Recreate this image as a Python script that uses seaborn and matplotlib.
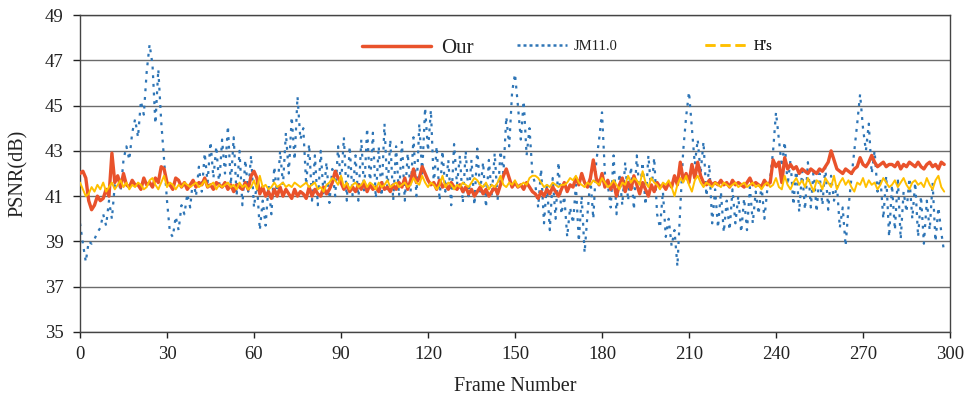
import matplotlib
matplotlib.use("Agg")
import matplotlib.pyplot as plt
from matplotlib.lines import Line2D
import seaborn as sns

our = [
    42.0, 42.1, 41.8, 40.8, 40.4, 40.6, 41.0, 40.8, 40.9, 41.3,
    41.0, 42.9, 41.6, 41.9, 41.4, 42.0, 41.5, 41.4, 41.7, 41.5,
    41.5, 41.3, 41.8, 41.5, 41.6, 41.4, 41.8, 41.6, 42.3, 42.2,
    41.6, 41.5, 41.3, 41.8, 41.7, 41.4, 41.6, 41.3, 41.5, 41.7,
    41.4, 41.6, 41.5, 41.8, 41.4, 41.5, 41.3, 41.6, 41.5, 41.4,
    41.6, 41.3, 41.5, 41.2, 41.5, 41.4, 41.3, 41.6, 41.3, 41.9,
    42.1, 41.8, 41.1, 41.4, 41.0, 41.2, 40.9, 41.3, 41.0, 41.4,
    41.0, 41.3, 41.1, 40.9, 41.3, 41.0, 41.2, 41.1, 40.9, 41.4,
    41.0, 41.3, 41.1, 41.0, 41.4, 41.1, 41.3, 41.6, 42.1, 41.8,
    41.6, 41.3, 41.5, 41.2, 41.4, 41.2, 41.5, 41.3, 41.6, 41.2,
    41.5, 41.3, 41.4, 41.2, 41.6, 41.3, 41.4, 41.2, 41.5, 41.3,
    41.6, 41.4, 41.8, 41.3, 41.7, 42.2, 41.6, 41.8, 42.3, 42.0,
    41.7, 41.5, 41.6, 41.3, 41.7, 41.4, 41.5, 41.3, 41.6, 41.4,
    41.3, 41.5, 41.2, 41.4, 41.1, 41.3, 41.0, 41.2, 41.4, 41.1,
    41.3, 41.0, 41.2, 41.4, 41.1, 41.5, 41.9, 42.2, 41.8, 41.4,
    41.6, 41.4, 41.5, 41.3, 41.6, 41.4, 41.2, 41.1, 40.9, 41.2,
    41.0, 41.3, 41.1, 41.4, 41.2, 41.0, 41.3, 41.6, 41.2, 41.5,
    41.4, 41.8, 41.5, 42.0, 41.6, 41.4, 41.8, 42.6, 41.8, 41.5,
    42.0, 41.4, 41.7, 41.3, 41.6, 41.0, 41.5, 41.8, 41.2, 41.6,
    41.3, 41.9, 41.5, 41.1, 41.6, 41.3, 41.0, 41.5, 41.2, 41.6,
    41.4, 41.5, 41.3, 41.6, 41.4, 41.9, 41.5, 42.5, 41.7, 42.0,
    41.6, 42.4, 41.8, 42.5, 41.9, 41.6, 41.5, 41.7, 41.5, 41.6,
    41.5, 41.7, 41.5, 41.6, 41.4, 41.7, 41.5, 41.6, 41.5, 41.4,
    41.6, 41.8, 41.5, 41.6, 41.5, 41.4, 41.7, 41.5, 41.6, 42.6,
    42.3, 42.5, 41.6, 42.7, 42.2, 42.4, 42.2, 42.3, 42.0, 42.2,
    42.1, 42.0, 42.2, 42.1, 42.0, 42.2, 42.1, 42.3, 42.5, 43.0,
    42.6, 42.2, 42.1, 42.0, 42.2, 42.1, 42.0, 42.2, 42.3, 42.7,
    42.4, 42.3, 42.5, 42.8, 42.5, 42.3, 42.4, 42.5, 42.3, 42.4,
    42.4, 42.3, 42.5, 42.2, 42.4, 42.3, 42.5, 42.4, 42.3, 42.5,
    42.3, 42.2, 42.4, 42.5, 42.3, 42.4, 42.2, 42.5, 42.4,
]

jm = [
    39.8, 38.9, 38.1, 39.0, 38.9, 39.1, 39.4, 39.6, 40.2, 39.7,
    40.8, 40.0, 41.5, 42.0, 41.2, 42.6, 43.2, 42.6, 43.8, 44.4,
    43.6, 45.2, 44.6, 46.5, 47.7, 46.8, 44.2, 46.6, 44.3, 42.6,
    40.8, 39.4, 39.2, 40.1, 39.5, 40.6, 40.2, 41.1, 40.5, 41.8,
    41.0, 42.3, 41.2, 42.9, 41.6, 43.4, 41.8, 43.2, 41.5, 43.5,
    42.0, 44.1, 41.5, 43.6, 41.0, 43.0, 40.6, 42.6, 41.2, 42.8,
    40.5, 41.6, 39.5, 40.8, 39.7, 41.5, 40.2, 42.3, 41.0, 43.0,
    41.5, 43.8, 42.0, 44.5, 42.6, 45.4, 43.5, 44.0, 41.5, 43.3,
    40.8, 42.8, 40.6, 43.0, 41.0, 42.5, 40.7, 42.2, 41.0, 43.2,
    41.5, 43.6, 40.8, 43.2, 41.0, 42.8, 40.8, 43.5, 41.2, 44.0,
    41.5, 43.8, 40.9, 43.2, 41.0, 44.2, 41.2, 43.5, 40.8, 43.2,
    41.0, 43.4, 40.8, 42.9, 41.2, 43.6, 41.0, 44.2, 42.0, 44.9,
    43.0, 44.8, 41.5, 43.2, 40.8, 43.0, 41.2, 42.6, 40.6, 43.3,
    41.5, 42.8, 40.7, 43.0, 41.0, 42.6, 40.6, 43.1, 41.2, 42.5,
    40.5, 42.6, 41.0, 42.9, 40.8, 43.0, 42.0, 44.5, 43.2, 45.6,
    46.4, 45.0, 43.5, 45.2, 42.8, 44.0, 42.0, 41.5, 40.5, 42.2,
    39.8, 41.6, 39.5, 41.8, 40.0, 42.5, 40.2, 41.0, 39.2, 40.5,
    39.8, 41.5, 39.0, 41.0, 38.5, 40.2, 41.8, 40.0, 42.5, 43.5,
    44.7, 42.0, 41.5, 40.5, 42.8, 40.2, 42.0, 40.6, 42.5, 40.8,
    42.3, 40.4, 42.8, 41.0, 42.5, 40.6, 42.8, 41.2, 42.7, 40.2,
    39.6, 41.2, 39.2, 40.0, 38.8, 39.5, 37.9, 40.5, 43.0, 44.5,
    45.6, 44.0, 42.4, 43.5, 42.0, 43.4, 41.0, 42.4, 39.8, 41.3,
    39.6, 41.2, 39.4, 40.8, 39.5, 41.3, 39.8, 41.0, 39.4, 40.9,
    39.5, 41.4, 39.8, 41.2, 40.2, 41.5, 40.0, 41.3, 41.8, 43.0,
    44.7, 43.5, 42.3, 43.4, 41.5, 42.6, 40.6, 42.3, 40.3, 42.1,
    40.4, 42.5, 40.5, 42.2, 40.3, 42.0, 40.6, 42.3, 40.4, 41.9,
    40.8, 41.5, 39.6, 40.5, 38.8, 40.5, 41.8, 43.0, 44.2, 45.5,
    44.0, 43.0, 44.2, 42.0, 43.0, 41.2, 41.8, 40.0, 41.9, 39.2,
    41.5, 39.5, 41.8, 39.1, 41.2, 40.3, 41.8, 40.0, 41.6, 39.2,
    41.0, 38.9, 40.8, 39.5, 41.6, 39.0, 40.5, 39.4, 38.5,
]

hs = [
    41.6, 41.3, 41.0, 41.1, 41.4, 41.2, 41.5, 41.3, 41.6, 41.2,
    41.4, 41.6, 41.3, 41.5, 41.7, 41.4, 41.6, 41.3, 41.5, 41.4,
    41.6, 41.5, 41.3, 41.4, 41.7, 41.8, 41.5, 41.3, 41.6, 41.9,
    41.4, 41.6, 41.5, 41.3, 41.5, 41.4, 41.6, 41.5, 41.4, 41.5,
    41.6, 41.4, 41.5, 41.7, 41.4, 41.5, 41.6, 41.3, 41.5, 41.4,
    41.5, 41.6, 41.4, 41.5, 41.3, 41.6, 41.4, 41.5, 41.3, 41.4,
    41.7, 41.3, 41.9, 41.4, 41.5, 41.3, 41.4, 41.6, 41.4, 41.5,
    41.6, 41.4, 41.5, 41.4, 41.6, 41.5, 41.4, 41.5, 41.6, 41.4,
    41.5, 41.6, 41.3, 41.4, 41.2, 41.5, 41.6, 41.8, 41.7, 41.5,
    41.9, 41.4, 41.6, 41.3, 41.5, 41.6, 41.4, 41.5, 41.7, 41.4,
    41.6, 41.5, 41.3, 41.6, 41.4, 41.5, 41.7, 41.4, 41.5, 41.6,
    41.4, 41.5, 41.6, 41.4, 41.5, 41.8, 41.6, 41.5, 41.9, 41.6,
    41.4, 41.6, 41.5, 41.3, 41.5, 41.9, 41.4, 41.6, 41.5, 41.3,
    41.5, 41.4, 41.6, 41.5, 41.4, 41.6, 41.8, 41.7, 41.5, 41.4,
    41.6, 41.3, 41.5, 41.4, 41.6, 41.9, 41.5, 41.4, 41.6, 41.5,
    41.7, 41.4, 41.5, 41.6, 41.5, 41.8, 41.9, 41.9, 41.8, 41.6,
    41.4, 41.5, 41.4, 41.6, 41.5, 41.4, 41.5, 41.5, 41.6, 41.8,
    41.7, 41.9, 41.6, 41.5, 41.4, 41.6, 41.5, 41.7, 41.6, 41.5,
    41.8, 41.6, 41.4, 41.5, 41.7, 41.5, 41.3, 41.6, 41.5, 41.9,
    41.6, 41.8, 41.7, 41.5, 42.1, 41.6, 41.4, 41.8, 41.6, 41.5,
    41.3, 41.6, 41.5, 41.7, 41.4, 41.0, 41.5, 41.8, 41.6, 41.9,
    41.5, 41.2, 41.7, 41.9, 41.6, 41.4, 41.6, 41.5, 41.4, 41.6,
    41.5, 41.4, 41.6, 41.5, 41.4, 41.5, 41.6, 41.4, 41.5, 41.6,
    41.4, 41.5, 41.6, 41.4, 41.5, 41.3, 41.5, 41.6, 41.4, 41.5,
    41.8, 41.4, 41.3, 41.9, 41.5, 41.3, 41.6, 41.8, 41.5, 41.7,
    41.4, 41.8, 41.5, 41.2, 41.7, 41.6, 41.3, 41.8, 41.6, 41.4,
    41.9, 41.3, 41.6, 41.8, 41.5, 41.7, 41.4, 41.2, 41.6, 41.5,
    41.8, 41.4, 41.7, 41.5, 41.6, 41.3, 41.5, 41.8, 41.6, 41.4,
    41.5, 41.7, 41.4, 41.6, 41.8, 41.5, 41.3, 41.6, 41.7, 41.5,
    41.6, 41.4, 41.8, 41.5, 41.3, 41.7, 41.9, 41.4, 41.2,
]

frames = list(range(len(our)))
series_names = ["Our", "JM11.0", "H's"]
y_ticks = [35, 37, 39, 41, 43, 45, 47, 49]
x_ticks = [0, 30, 60, 90, 120, 150, 180, 210, 240, 270, 300]

sns.set_theme(style="white")
plt.rcParams["font.family"] = ["Liberation Serif", "DejaVu Serif"]

c_our = "#E9522B"
c_jm = "#2E75B6"
c_hs = "#FFC000"

fig = plt.figure(figsize=(9.7, 3.97), dpi=100)
ax = fig.add_axes([80 / 970, 65 / 397, 870 / 970, 317 / 397])

sns.lineplot(x=frames, y=jm, ax=ax, color=c_jm, lw=1.6,
             linestyle=(0, (1.3, 2.6)), zorder=2)
sns.lineplot(x=frames, y=our, ax=ax, color=c_our, lw=2.4, zorder=3)
sns.lineplot(x=frames, y=hs, ax=ax, color=c_hs, lw=1.4, zorder=4)

ax.set_xlim(0, 300)
ax.set_ylim(35, 49)
ax.set_xticks(x_ticks)
ax.set_yticks(y_ticks)
ax.tick_params(axis="both", labelsize=13.5, colors="#222222")
ax.tick_params(axis="y", direction="out", length=5, width=1, left=True, pad=7)
ax.tick_params(axis="x", direction="out", length=4, width=1, bottom=True, pad=6)
ax.yaxis.grid(True, color="#6b6b6b", lw=1.0)
ax.xaxis.grid(False)
for s in ["left", "bottom", "right", "top"]:
    ax.spines[s].set_visible(True)
    ax.spines[s].set_color("#444444")
    ax.spines[s].set_linewidth(1.0)

ax.set_xlabel("Frame Number", fontsize=14.5, color="#222222", labelpad=10)
ax.set_ylabel("PSNR(dB)", fontsize=14.5, color="#222222", labelpad=12)

# legends, one per entry
entries = [
    (series_names[0], Line2D([], [], color=c_our, lw=2.5), 15, (362 - 80) / 870, (332 - 48) / 317, 3.3),
    (series_names[1], Line2D([], [], color=c_jm, lw=1.8, linestyle=(0, (1.2, 1.2))), 10.5, (517 - 80) / 870, (332 - 46) / 317, 3.4),
    (series_names[2], Line2D([], [], color=c_hs, lw=1.8, linestyle=(0, (4, 2))), 10.5, (705 - 80) / 870, (332 - 46) / 317, 2.8),
]
for name, handle, fs, xa, ya, hl in entries:
    leg = ax.legend([handle], [name], loc="center left", bbox_to_anchor=(xa, ya),
                    frameon=False, fontsize=fs, borderpad=0, borderaxespad=0,
                    handlelength=hl, handletextpad=0.5)
    for t in leg.get_texts():
        t.set_color("#222222")
    ax.add_artist(leg)

fig.savefig("out.png", dpi=100)
